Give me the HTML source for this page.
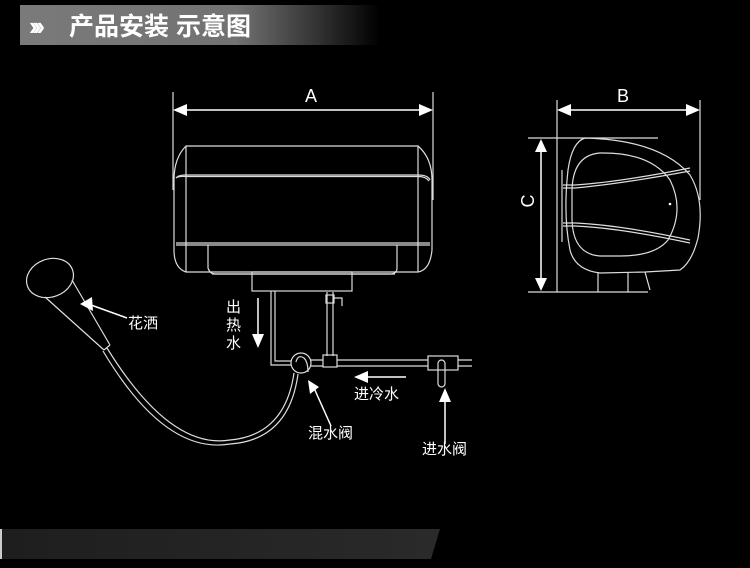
<!DOCTYPE html>
<html><head><meta charset="utf-8"><style>
html,body{margin:0;padding:0;background:#000;width:750px;height:568px;overflow:hidden}
svg{display:block}
text{font-family:"Liberation Sans","Noto Sans CJK SC",sans-serif;fill:#fff}
</style></head><body>
<svg width="750" height="568" viewBox="0 0 750 568">
<defs>
<linearGradient id="hg" x1="0" x2="1">
<stop offset="0" stop-color="#7a7a7a"/><stop offset="0.6" stop-color="#727272"/><stop offset="0.8" stop-color="#3a3a3a"/><stop offset="1" stop-color="#000"/>
</linearGradient>
<linearGradient id="bg2" x1="0" x2="1">
<stop offset="0" stop-color="#1e1e1e"/><stop offset="1" stop-color="#2a2a2a"/>
</linearGradient>
</defs>
<rect x="20" y="5" width="360" height="40" fill="url(#hg)"/>
<text x="29" y="35" font-size="26" font-weight="bold" letter-spacing="-5">›››</text>
<text x="69" y="35" font-size="25" font-weight="bold">产品安装 示意图</text>
<polygon points="0,529 440,529 431,559 0,559" fill="url(#bg2)"/>
<rect x="0" y="529" width="2" height="30" fill="#ccc"/>

<g fill="none" stroke="#ddd" stroke-width="1.2">
<line x1="173" y1="92" x2="173" y2="190"/>
<line x1="433" y1="92" x2="433" y2="200"/>
<line x1="185" y1="110" x2="421" y2="110" stroke="#fff" stroke-width="1.5"/>
<path d="M186,146 L418,146 Q432,158 432,180 L432,250 Q430,270 418,272 L186,272 Q174,268 174,250 L174,180 Q174,158 186,146 Z"/>
<line x1="186" y1="146" x2="186" y2="272"/>
<line x1="418" y1="146" x2="418" y2="272"/>
<path d="M176,178 Q178,175 186,175 L418,175 Q428,175 430,180"/>
<path d="M176,178 Q178,176 186,176.5 L418,176.5 Q426,176.5 429,181"/>
<path d="M176,243 L430,243"/>
<path d="M176,245 L430,245"/>
<path d="M208,245 L208,268 Q210,274 215,274 L390,274 Q397,274 397,268 L397,245"/>
<path d="M212,274 L395,274"/>
<rect x="252" y="272" width="100" height="19"/>
<path d="M271,291 L271,365 L291,365"/>
<path d="M275,291 L275,361 L291,361"/>
<path d="M327,292 L327,356 M333,292 L333,356"/>
<rect x="326" y="295" width="8" height="8"/>
<path d="M334,298 L342,298 L342,306"/>
<rect x="323" y="355" width="14" height="12"/>
<path d="M311,360 L323,360 M311,366 L323,366 M337,360 L428,360 M337,366 L428,366 M458,360 L472,360 M458,366 L472,366"/>
<rect x="428" y="356" width="30" height="14"/>
<rect x="438" y="360" width="7" height="27" rx="3.5"/>
<circle cx="301" cy="363" r="10"/>
<path d="M296,362 Q298,354 304,358 Q308,362 308,372"/>
<line x1="557" y1="100" x2="557" y2="292"/>
<line x1="700" y1="100" x2="700" y2="200"/>
<line x1="570" y1="110" x2="688" y2="110" stroke="#fff" stroke-width="1.5"/>
<line x1="528" y1="138" x2="658" y2="138"/>
<line x1="528" y1="292" x2="648" y2="292"/>
<line x1="541" y1="150" x2="541" y2="280" stroke="#fff" stroke-width="1.5"/>
<path d="M585,138 Q660,140 690,175 Q705,200 698,238 Q692,262 680,270 L645,272 L600,273 Q575,270 570,250 Q563,215 568,170 Q572,142 585,138 Z"/>
<path d="M600,153 Q650,152 670,180 Q685,210 668,240 Q655,256 620,256 L600,256 Q573,254 572,220 L572,190 Q573,155 600,153 Z"/>
<path d="M562,170 L562,242"/>
<path d="M563,185 L575,185 Q620,182 690,168 M563,188 L575,188 Q620,184 690,171"/>
<path d="M563,223 L575,223 Q620,225 690,240 M563,226 L575,226 Q620,228 690,243"/>
<path d="M598,272 L598,292 M628,272 L628,292 M645,272 L650,290"/>
<ellipse cx="50" cy="278" rx="24" ry="19" transform="rotate(-20 50 278)"/>
<path d="M45,297 L104,350 M72,280 L110,345 M104,350 L110,345"/>
<path d="M107,348 Q170,450 230,440 Q285,435 294,373"/>
<path d="M103,351 Q165,455 230,444 Q289,440 298,374"/>
</g>
<circle cx="670" cy="204" r="1.3" fill="#fff"/>
<g fill="#fff">
<polygon points="173,110 187,104 187,116"/>
<polygon points="433,110 419,104 419,116"/>
<polygon points="557,110 571,104 571,116"/>
<polygon points="700,110 686,104 686,116"/>
<polygon points="541,139 535,152 547,152"/>
<polygon points="541,291 535,278 547,278"/>
<polygon points="258,348 252,334 264,334"/>
<polygon points="354,377 368,371 368,383"/>
<polygon points="445,388 439,402 451,402"/>
<polygon points="308,380 319,387 310,394"/>
<polygon points="80,304 92,297 93,311"/>
</g>
<g stroke="#fff" stroke-width="1.5">
<line x1="258" y1="298" x2="258" y2="336"/>
<line x1="366" y1="377" x2="406" y2="377"/>
<line x1="445" y1="400" x2="445" y2="444"/>
<line x1="314" y1="388" x2="331" y2="426"/>
<line x1="91" y1="305" x2="127" y2="318"/>
</g>
<text x="311" y="102" font-size="18" text-anchor="middle">A</text>
<text x="623" y="102" font-size="18" text-anchor="middle">B</text>
<text x="528" y="201" font-size="18" text-anchor="middle" transform="rotate(-90 528 201)" dy="6">C</text>
<text x="128" y="328" font-size="15">花洒</text>
<text x="226" y="312" font-size="15">出</text>
<text x="226" y="330" font-size="15">热</text>
<text x="226" y="348" font-size="15">水</text>
<text x="354" y="399" font-size="15">进冷水</text>
<text x="308" y="438" font-size="15">混水阀</text>
<text x="422" y="454" font-size="15">进水阀</text>
</svg>
</body></html>
